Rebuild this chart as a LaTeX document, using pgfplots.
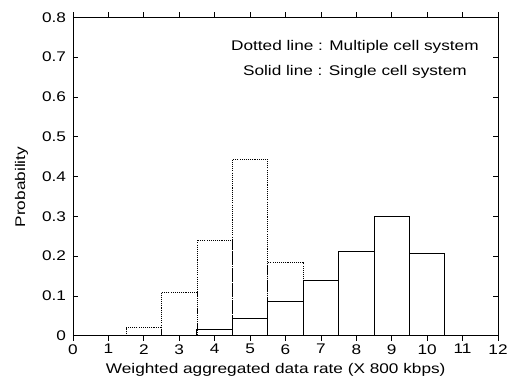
\documentclass[border=0pt]{standalone}
\usepackage{fontspec}
\setmainfont{Liberation Sans}[FakeStretch=1.23]
\usepackage{pgfplots}
\pgfplotsset{compat=1.18}
\begin{document}
\fontsize{10.5}{12.6}\selectfont
\begin{tikzpicture}
\begin{axis}[
  at={(0,0)}, anchor=south west,
  scale only axis,
  width=318.75pt, height=238.8pt,
  xmin=0, xmax=12, ymin=0, ymax=0.8,
  xtick={0,1,...,12},
  ytick={0,0.1,0.2,0.3,0.4,0.5,0.6,0.7,0.8},
  tick align=inside,
  major tick length=3.75pt,
  every tick/.style={black, line width=0.6pt},
  axis line style={line width=0.6pt},
  /pgf/number format/assume math mode=true,
  /pgf/number format/.cd, fixed, precision=1, /pgfplots/.cd,
  tick label style={font=\fontsize{10.5}{12.6}\selectfont},
  xticklabel style={yshift=1pt},
  yticklabel style={xshift=-1.5pt},
  xlabel={Weighted aggregated data rate (X 800 kbps)},
  ylabel={Probability},
  xlabel style={at={(axis description cs:0.477,-0.085)}, anchor=north, inner sep=0pt, font=\fontsize{10.5}{12.6}\selectfont},
  ylabel style={at={(axis description cs:-0.121,0.467)}, anchor=center, rotate=0, inner sep=0pt, font=\fontsize{10.5}{12.6}\selectfont},
  ybar, bar width=1, bar shift=0pt,
  clip=false,
]
\addplot[draw=black, fill=none, line width=0.6pt, dash pattern=on 0.8pt off 0.8pt] coordinates {
  (2,0.022) (3,0.11) (4,0.24) (5,0.443) (6,0.185)
};
\addplot[draw=black, fill=none, line width=0.7pt] coordinates {
  (4,0.016) (5,0.044) (6,0.086) (7,0.138) (8,0.212) (9,0.30) (10,0.207)
};
\node[align=center, font=\fontsize{10.5}{18.75}\selectfont, inner sep=0pt] at (axis cs:7.96,0.694)
  {Dotted line : Multiple cell system\\Solid line : Single cell system};
\end{axis}
\pgfresetboundingbox
\path[use as bounding box] (-54.75pt,-34.7pt) rectangle (327.75pt,251.8pt);
\end{tikzpicture}
\end{document}
